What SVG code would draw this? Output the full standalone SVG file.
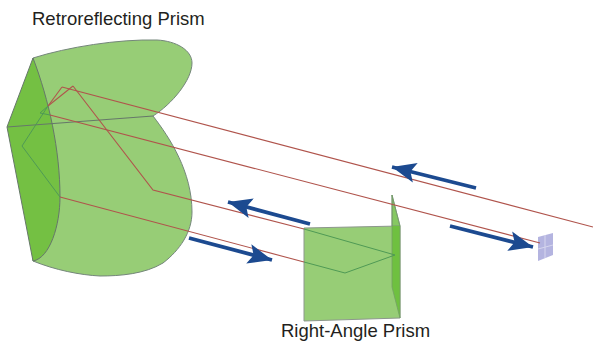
<svg xmlns="http://www.w3.org/2000/svg" width="593" height="341" viewBox="0 0 593 341">
<style>
text{font-family:"Liberation Sans",Arial,sans-serif;font-size:18.5px;fill:#231f20}
.edge{fill:none;stroke:#66776a;stroke-width:1.1}
.ray{fill:none;stroke:#b0544c;stroke-width:1.1}
.in{fill:none;stroke:#4f9a55;stroke-width:1}
.blue{stroke:#1c4a90;stroke-width:3.8;fill:none;marker-end:url(#ah)}
</style>
<defs><marker id="ah" markerUnits="userSpaceOnUse" markerWidth="26" markerHeight="22" refX="24" refY="11" orient="auto"><path d="M0 1L24 11L0 21L5 11Z" fill="#1c4a90"/></marker></defs>
<rect width="593" height="341" fill="#fff"/>
<g id="retroreflecting-prism">
<path d="M33 58C68 47 118 39 157 40C176 41 192 50 192 63C192 80 172 104 153 116C170 138 192 172 192 212C192 232 180 250 163 263C145 274 120 276 100 276C80 275 55 270 33 261Z" fill="#97cd76" stroke="#74867a" stroke-width="1"/>
<path d="M33 58L7 127L33 261C50 258 60 225 60 197C60 150 49 100 33 58Z" fill="#74c043" stroke="#66776a" stroke-width="1"/>
<path class="edge" d="M7 127L153 116"/>
</g>
<g id="right-angle-prism">
<path d="M304 228L400 226V318L304 321Z" fill="#97cd76" stroke="#8d978d" stroke-width="1"/>
<path d="M392 195L400 226H392Z" fill="#86c862" stroke="#74867a" stroke-width=".8"/>
<path d="M392 226H400V318L392 287Z" fill="#6fc040"/>
<path d="M392 195V287L400 318V226Z" fill="none" stroke="#74a066" stroke-width=".8"/>
</g>
<g id="target">
<path d="M538 237L553 233V255L538 261Z" fill="#b4b4e0"/>
<path d="M545 235V258M538 249L553 245" stroke="#d6d6ee" stroke-width="1" fill="none"/>
</g>
<g id="connectors">
<path class="ray" d="M593 227L62 87"/>
<path class="ray" d="M62 87L48 106"/>
<path class="in" d="M48 106L40 113"/>
<path class="in" d="M40 113L50 115"/>
<path class="ray" d="M50 115L540 243"/>
<path class="ray" d="M73 86L153 190L304 229"/>
<path class="in" d="M304 229L395 255L345 273L304 262"/>
<path class="ray" d="M304 262L60 197"/>
<path class="in" d="M60 197L22 146L48 106"/>
<path class="ray" d="M48 106L73 86"/>
<path class="blue" d="M189 238L272 260"/>
<path class="blue" d="M310 224L228 202"/>
<path class="blue" d="M476 188L392 167"/>
<path class="blue" d="M450 226L533 247"/>
</g>
<text x="32" y="25">Retroreflecting Prism</text>
<text x="281" y="337">Right-Angle Prism</text>
</svg>
